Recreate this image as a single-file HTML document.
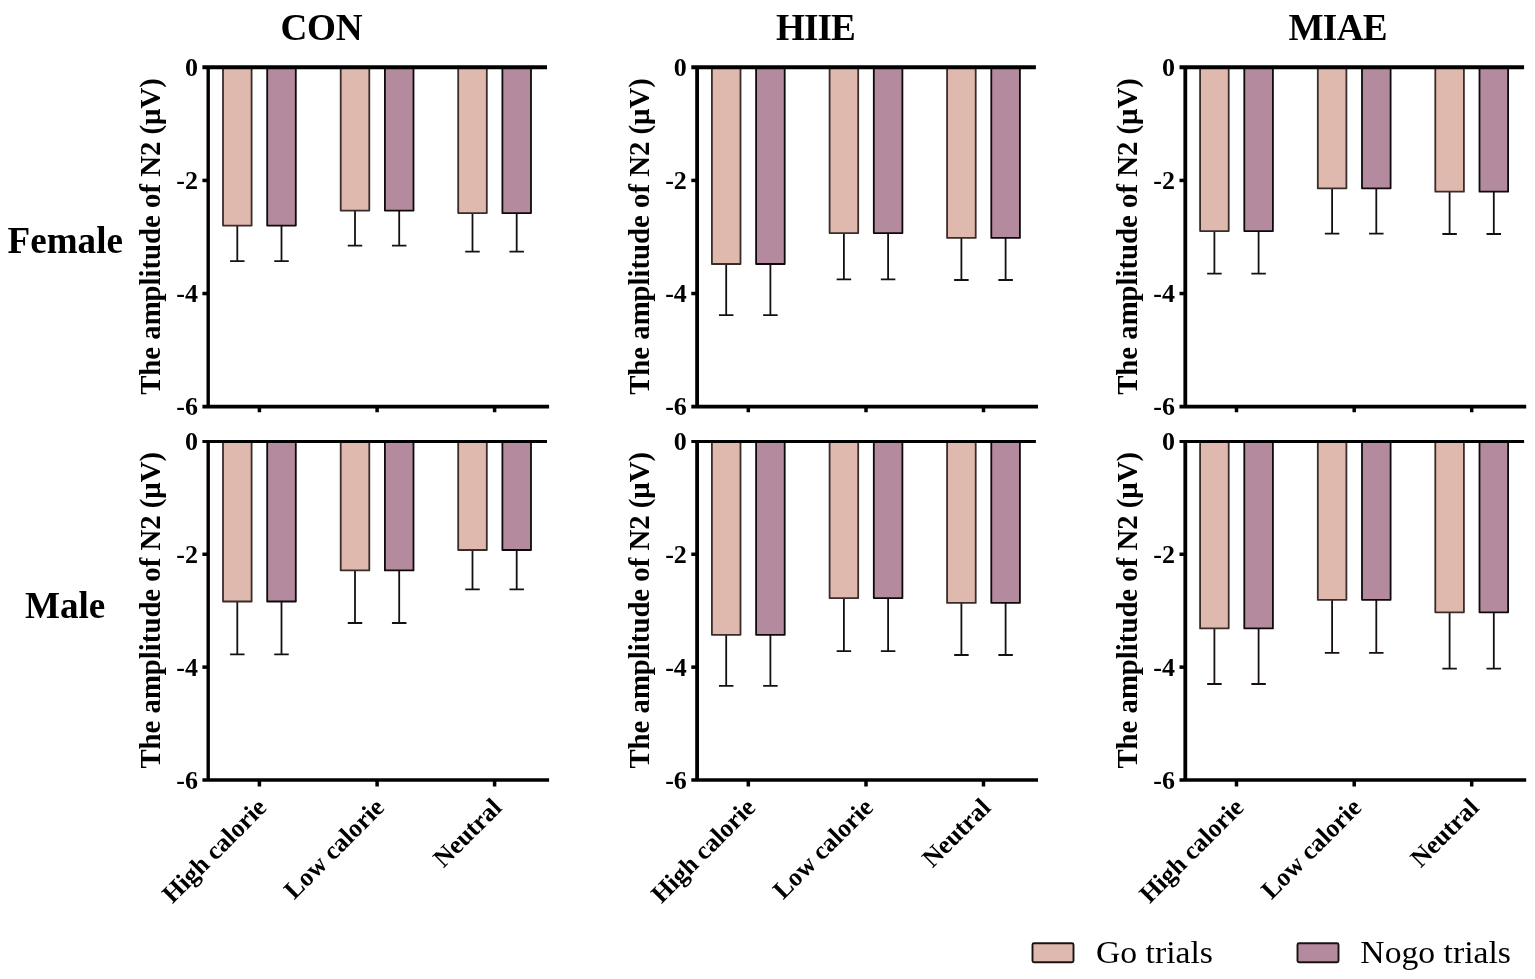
<!DOCTYPE html>
<html lang="en"><head><meta charset="utf-8"><title>N2 amplitude</title>
<style>html,body{margin:0;padding:0;background:#fff;overflow:hidden}svg{display:block;filter:blur(0.45px)}</style></head>
<body>
<svg width="1535" height="979" viewBox="0 0 1535 979">
<rect width="1535" height="979" fill="#fff"/>
<g font-family="'Liberation Serif', 'Times New Roman', serif" font-weight="bold" fill="#000">
<text x="280.4" y="39.8" font-size="37.2" letter-spacing="-0.2">CON</text>
<text x="776" y="39.8" font-size="37.2" letter-spacing="-0.95">HIIE</text>
<text x="1288.4" y="39.8" font-size="37.2" letter-spacing="-0.65">MIAE</text>
<text x="7.6" y="253" font-size="37.1">Female</text>
<text x="25" y="618" font-size="37.1">Male</text>
<path d="M237.30 225.60V261.10M230.05 261.10H244.55" stroke="#161012" stroke-width="1.8" fill="none"/>
<rect x="223.00" y="67.30" width="28.60" height="158.30" fill="#dfb9ad" stroke="#3a2c29" stroke-width="1.8" stroke-linejoin="round"/>
<path d="M281.50 225.60V261.10M274.25 261.10H288.75" stroke="#161012" stroke-width="1.8" fill="none"/>
<rect x="267.20" y="67.30" width="28.60" height="158.30" fill="#b48a9e" stroke="#0e0a0c" stroke-width="1.8" stroke-linejoin="round"/>
<path d="M355.00 210.60V245.70M347.75 245.70H362.25" stroke="#161012" stroke-width="1.8" fill="none"/>
<rect x="340.70" y="67.30" width="28.60" height="143.30" fill="#dfb9ad" stroke="#3a2c29" stroke-width="1.8" stroke-linejoin="round"/>
<path d="M399.20 210.60V245.70M391.95 245.70H406.45" stroke="#161012" stroke-width="1.8" fill="none"/>
<rect x="384.90" y="67.30" width="28.60" height="143.30" fill="#b48a9e" stroke="#0e0a0c" stroke-width="1.8" stroke-linejoin="round"/>
<path d="M472.50 213.10V251.70M465.25 251.70H479.75" stroke="#161012" stroke-width="1.8" fill="none"/>
<rect x="458.20" y="67.30" width="28.60" height="145.80" fill="#dfb9ad" stroke="#3a2c29" stroke-width="1.8" stroke-linejoin="round"/>
<path d="M516.70 213.10V251.70M509.45 251.70H523.95" stroke="#161012" stroke-width="1.8" fill="none"/>
<rect x="502.40" y="67.30" width="28.60" height="145.80" fill="#b48a9e" stroke="#0e0a0c" stroke-width="1.8" stroke-linejoin="round"/>
<path d="M208.20 67.30V406.65" stroke="#000" stroke-width="3.4" fill="none"/>
<path d="M202.40 67.30H547.00" stroke="#000" stroke-width="4.0" fill="none"/>
<path d="M202.40 406.65H549.10" stroke="#000" stroke-width="3.7" fill="none"/>
<text x="197.90" y="75.80" font-size="26" text-anchor="end">0</text>
<path d="M202.40 180.42H208.20" stroke="#000" stroke-width="3.5" fill="none"/>
<text x="197.90" y="188.92" font-size="26" text-anchor="end">-2</text>
<path d="M202.40 293.53H208.20" stroke="#000" stroke-width="3.5" fill="none"/>
<text x="197.90" y="302.03" font-size="26" text-anchor="end">-4</text>
<text x="197.90" y="415.15" font-size="26" text-anchor="end">-6</text>
<path d="M259.40 406.65v5.6" stroke="#000" stroke-width="3.5" fill="none"/>
<path d="M377.10 406.65v5.6" stroke="#000" stroke-width="3.5" fill="none"/>
<path d="M494.60 406.65v5.6" stroke="#000" stroke-width="3.5" fill="none"/>
<text transform="translate(159.90 236.57) rotate(-90)" font-size="28.75" text-anchor="middle">The amplitude of N2 (μV)</text>
<path d="M726.20 264.00V315.10M718.95 315.10H733.45" stroke="#161012" stroke-width="1.8" fill="none"/>
<rect x="711.90" y="67.30" width="28.60" height="196.70" fill="#dfb9ad" stroke="#3a2c29" stroke-width="1.8" stroke-linejoin="round"/>
<path d="M770.40 264.00V315.10M763.15 315.10H777.65" stroke="#161012" stroke-width="1.8" fill="none"/>
<rect x="756.10" y="67.30" width="28.60" height="196.70" fill="#b48a9e" stroke="#0e0a0c" stroke-width="1.8" stroke-linejoin="round"/>
<path d="M843.90 233.10V279.40M836.65 279.40H851.15" stroke="#161012" stroke-width="1.8" fill="none"/>
<rect x="829.60" y="67.30" width="28.60" height="165.80" fill="#dfb9ad" stroke="#3a2c29" stroke-width="1.8" stroke-linejoin="round"/>
<path d="M888.10 233.10V279.40M880.85 279.40H895.35" stroke="#161012" stroke-width="1.8" fill="none"/>
<rect x="873.80" y="67.30" width="28.60" height="165.80" fill="#b48a9e" stroke="#0e0a0c" stroke-width="1.8" stroke-linejoin="round"/>
<path d="M961.40 237.90V280.00M954.15 280.00H968.65" stroke="#161012" stroke-width="1.8" fill="none"/>
<rect x="947.10" y="67.30" width="28.60" height="170.60" fill="#dfb9ad" stroke="#3a2c29" stroke-width="1.8" stroke-linejoin="round"/>
<path d="M1005.60 237.90V280.00M998.35 280.00H1012.85" stroke="#161012" stroke-width="1.8" fill="none"/>
<rect x="991.30" y="67.30" width="28.60" height="170.60" fill="#b48a9e" stroke="#0e0a0c" stroke-width="1.8" stroke-linejoin="round"/>
<path d="M697.10 67.30V406.65" stroke="#000" stroke-width="3.8" fill="none"/>
<path d="M691.30 67.30H1035.90" stroke="#000" stroke-width="4.0" fill="none"/>
<path d="M691.30 406.65H1038.00" stroke="#000" stroke-width="3.7" fill="none"/>
<text x="686.80" y="75.80" font-size="26" text-anchor="end">0</text>
<path d="M691.30 180.42H697.10" stroke="#000" stroke-width="3.5" fill="none"/>
<text x="686.80" y="188.92" font-size="26" text-anchor="end">-2</text>
<path d="M691.30 293.53H697.10" stroke="#000" stroke-width="3.5" fill="none"/>
<text x="686.80" y="302.03" font-size="26" text-anchor="end">-4</text>
<text x="686.80" y="415.15" font-size="26" text-anchor="end">-6</text>
<path d="M748.30 406.65v5.6" stroke="#000" stroke-width="3.5" fill="none"/>
<path d="M866.00 406.65v5.6" stroke="#000" stroke-width="3.5" fill="none"/>
<path d="M983.50 406.65v5.6" stroke="#000" stroke-width="3.5" fill="none"/>
<text transform="translate(648.80 236.57) rotate(-90)" font-size="28.75" text-anchor="middle">The amplitude of N2 (μV)</text>
<path d="M1214.40 231.10V273.60M1207.15 273.60H1221.65" stroke="#161012" stroke-width="1.8" fill="none"/>
<rect x="1200.10" y="67.30" width="28.60" height="163.80" fill="#dfb9ad" stroke="#3a2c29" stroke-width="1.8" stroke-linejoin="round"/>
<path d="M1258.60 231.10V273.60M1251.35 273.60H1265.85" stroke="#161012" stroke-width="1.8" fill="none"/>
<rect x="1244.30" y="67.30" width="28.60" height="163.80" fill="#b48a9e" stroke="#0e0a0c" stroke-width="1.8" stroke-linejoin="round"/>
<path d="M1332.10 188.30V233.60M1324.85 233.60H1339.35" stroke="#161012" stroke-width="1.8" fill="none"/>
<rect x="1317.80" y="67.30" width="28.60" height="121.00" fill="#dfb9ad" stroke="#3a2c29" stroke-width="1.8" stroke-linejoin="round"/>
<path d="M1376.30 188.30V233.60M1369.05 233.60H1383.55" stroke="#161012" stroke-width="1.8" fill="none"/>
<rect x="1362.00" y="67.30" width="28.60" height="121.00" fill="#b48a9e" stroke="#0e0a0c" stroke-width="1.8" stroke-linejoin="round"/>
<path d="M1449.60 191.70V234.00M1442.35 234.00H1456.85" stroke="#161012" stroke-width="1.8" fill="none"/>
<rect x="1435.30" y="67.30" width="28.60" height="124.40" fill="#dfb9ad" stroke="#3a2c29" stroke-width="1.8" stroke-linejoin="round"/>
<path d="M1493.80 191.70V234.00M1486.55 234.00H1501.05" stroke="#161012" stroke-width="1.8" fill="none"/>
<rect x="1479.50" y="67.30" width="28.60" height="124.40" fill="#b48a9e" stroke="#0e0a0c" stroke-width="1.8" stroke-linejoin="round"/>
<path d="M1185.30 67.30V406.65" stroke="#000" stroke-width="3.8" fill="none"/>
<path d="M1179.50 67.30H1524.10" stroke="#000" stroke-width="4.0" fill="none"/>
<path d="M1179.50 406.65H1526.20" stroke="#000" stroke-width="3.7" fill="none"/>
<text x="1175.00" y="75.80" font-size="26" text-anchor="end">0</text>
<path d="M1179.50 180.42H1185.30" stroke="#000" stroke-width="3.5" fill="none"/>
<text x="1175.00" y="188.92" font-size="26" text-anchor="end">-2</text>
<path d="M1179.50 293.53H1185.30" stroke="#000" stroke-width="3.5" fill="none"/>
<text x="1175.00" y="302.03" font-size="26" text-anchor="end">-4</text>
<text x="1175.00" y="415.15" font-size="26" text-anchor="end">-6</text>
<path d="M1236.50 406.65v5.6" stroke="#000" stroke-width="3.5" fill="none"/>
<path d="M1354.20 406.65v5.6" stroke="#000" stroke-width="3.5" fill="none"/>
<path d="M1471.70 406.65v5.6" stroke="#000" stroke-width="3.5" fill="none"/>
<text transform="translate(1137.00 236.57) rotate(-90)" font-size="28.75" text-anchor="middle">The amplitude of N2 (μV)</text>
<path d="M237.30 601.50V654.40M230.05 654.40H244.55" stroke="#161012" stroke-width="1.8" fill="none"/>
<rect x="223.00" y="441.40" width="28.60" height="160.10" fill="#dfb9ad" stroke="#3a2c29" stroke-width="1.8" stroke-linejoin="round"/>
<path d="M281.50 601.50V654.40M274.25 654.40H288.75" stroke="#161012" stroke-width="1.8" fill="none"/>
<rect x="267.20" y="441.40" width="28.60" height="160.10" fill="#b48a9e" stroke="#0e0a0c" stroke-width="1.8" stroke-linejoin="round"/>
<path d="M355.00 570.40V623.00M347.75 623.00H362.25" stroke="#161012" stroke-width="1.8" fill="none"/>
<rect x="340.70" y="441.40" width="28.60" height="129.00" fill="#dfb9ad" stroke="#3a2c29" stroke-width="1.8" stroke-linejoin="round"/>
<path d="M399.20 570.40V623.00M391.95 623.00H406.45" stroke="#161012" stroke-width="1.8" fill="none"/>
<rect x="384.90" y="441.40" width="28.60" height="129.00" fill="#b48a9e" stroke="#0e0a0c" stroke-width="1.8" stroke-linejoin="round"/>
<path d="M472.50 550.00V589.40M465.25 589.40H479.75" stroke="#161012" stroke-width="1.8" fill="none"/>
<rect x="458.20" y="441.40" width="28.60" height="108.60" fill="#dfb9ad" stroke="#3a2c29" stroke-width="1.8" stroke-linejoin="round"/>
<path d="M516.70 550.00V589.40M509.45 589.40H523.95" stroke="#161012" stroke-width="1.8" fill="none"/>
<rect x="502.40" y="441.40" width="28.60" height="108.60" fill="#b48a9e" stroke="#0e0a0c" stroke-width="1.8" stroke-linejoin="round"/>
<path d="M208.20 441.40V780.00" stroke="#000" stroke-width="3.4" fill="none"/>
<path d="M202.40 441.40H547.00" stroke="#000" stroke-width="3.0" fill="none"/>
<path d="M202.40 780.00H549.10" stroke="#000" stroke-width="3.4" fill="none"/>
<text x="197.90" y="449.90" font-size="26" text-anchor="end">0</text>
<path d="M202.40 554.27H208.20" stroke="#000" stroke-width="3.5" fill="none"/>
<text x="197.90" y="562.77" font-size="26" text-anchor="end">-2</text>
<path d="M202.40 667.13H208.20" stroke="#000" stroke-width="3.5" fill="none"/>
<text x="197.90" y="675.63" font-size="26" text-anchor="end">-4</text>
<text x="197.90" y="788.50" font-size="26" text-anchor="end">-6</text>
<path d="M259.40 780.00v6.5" stroke="#000" stroke-width="3.5" fill="none"/>
<path d="M377.10 780.00v6.5" stroke="#000" stroke-width="3.5" fill="none"/>
<path d="M494.60 780.00v6.5" stroke="#000" stroke-width="3.5" fill="none"/>
<text transform="translate(159.90 610.30) rotate(-90)" font-size="28.75" text-anchor="middle">The amplitude of N2 (μV)</text>
<text transform="translate(267.90 809.00) rotate(-45)" font-size="25.7" text-anchor="end">High calorie</text>
<text transform="translate(385.60 809.00) rotate(-45)" font-size="25.7" text-anchor="end">Low calorie</text>
<text transform="translate(503.10 809.00) rotate(-45)" font-size="25.7" text-anchor="end">Neutral</text>
<path d="M726.20 634.80V685.90M718.95 685.90H733.45" stroke="#161012" stroke-width="1.8" fill="none"/>
<rect x="711.90" y="441.40" width="28.60" height="193.40" fill="#dfb9ad" stroke="#3a2c29" stroke-width="1.8" stroke-linejoin="round"/>
<path d="M770.40 634.80V685.90M763.15 685.90H777.65" stroke="#161012" stroke-width="1.8" fill="none"/>
<rect x="756.10" y="441.40" width="28.60" height="193.40" fill="#b48a9e" stroke="#0e0a0c" stroke-width="1.8" stroke-linejoin="round"/>
<path d="M843.90 598.10V651.10M836.65 651.10H851.15" stroke="#161012" stroke-width="1.8" fill="none"/>
<rect x="829.60" y="441.40" width="28.60" height="156.70" fill="#dfb9ad" stroke="#3a2c29" stroke-width="1.8" stroke-linejoin="round"/>
<path d="M888.10 598.10V651.10M880.85 651.10H895.35" stroke="#161012" stroke-width="1.8" fill="none"/>
<rect x="873.80" y="441.40" width="28.60" height="156.70" fill="#b48a9e" stroke="#0e0a0c" stroke-width="1.8" stroke-linejoin="round"/>
<path d="M961.40 602.90V655.00M954.15 655.00H968.65" stroke="#161012" stroke-width="1.8" fill="none"/>
<rect x="947.10" y="441.40" width="28.60" height="161.50" fill="#dfb9ad" stroke="#3a2c29" stroke-width="1.8" stroke-linejoin="round"/>
<path d="M1005.60 602.90V655.00M998.35 655.00H1012.85" stroke="#161012" stroke-width="1.8" fill="none"/>
<rect x="991.30" y="441.40" width="28.60" height="161.50" fill="#b48a9e" stroke="#0e0a0c" stroke-width="1.8" stroke-linejoin="round"/>
<path d="M697.10 441.40V780.00" stroke="#000" stroke-width="3.8" fill="none"/>
<path d="M691.30 441.40H1035.90" stroke="#000" stroke-width="3.0" fill="none"/>
<path d="M691.30 780.00H1038.00" stroke="#000" stroke-width="3.4" fill="none"/>
<text x="686.80" y="449.90" font-size="26" text-anchor="end">0</text>
<path d="M691.30 554.27H697.10" stroke="#000" stroke-width="3.5" fill="none"/>
<text x="686.80" y="562.77" font-size="26" text-anchor="end">-2</text>
<path d="M691.30 667.13H697.10" stroke="#000" stroke-width="3.5" fill="none"/>
<text x="686.80" y="675.63" font-size="26" text-anchor="end">-4</text>
<text x="686.80" y="788.50" font-size="26" text-anchor="end">-6</text>
<path d="M748.30 780.00v6.5" stroke="#000" stroke-width="3.5" fill="none"/>
<path d="M866.00 780.00v6.5" stroke="#000" stroke-width="3.5" fill="none"/>
<path d="M983.50 780.00v6.5" stroke="#000" stroke-width="3.5" fill="none"/>
<text transform="translate(648.80 610.30) rotate(-90)" font-size="28.75" text-anchor="middle">The amplitude of N2 (μV)</text>
<text transform="translate(756.80 809.00) rotate(-45)" font-size="25.7" text-anchor="end">High calorie</text>
<text transform="translate(874.50 809.00) rotate(-45)" font-size="25.7" text-anchor="end">Low calorie</text>
<text transform="translate(992.00 809.00) rotate(-45)" font-size="25.7" text-anchor="end">Neutral</text>
<path d="M1214.40 628.40V684.00M1207.15 684.00H1221.65" stroke="#161012" stroke-width="1.8" fill="none"/>
<rect x="1200.10" y="441.40" width="28.60" height="187.00" fill="#dfb9ad" stroke="#3a2c29" stroke-width="1.8" stroke-linejoin="round"/>
<path d="M1258.60 628.40V684.00M1251.35 684.00H1265.85" stroke="#161012" stroke-width="1.8" fill="none"/>
<rect x="1244.30" y="441.40" width="28.60" height="187.00" fill="#b48a9e" stroke="#0e0a0c" stroke-width="1.8" stroke-linejoin="round"/>
<path d="M1332.10 599.80V652.80M1324.85 652.80H1339.35" stroke="#161012" stroke-width="1.8" fill="none"/>
<rect x="1317.80" y="441.40" width="28.60" height="158.40" fill="#dfb9ad" stroke="#3a2c29" stroke-width="1.8" stroke-linejoin="round"/>
<path d="M1376.30 599.80V652.80M1369.05 652.80H1383.55" stroke="#161012" stroke-width="1.8" fill="none"/>
<rect x="1362.00" y="441.40" width="28.60" height="158.40" fill="#b48a9e" stroke="#0e0a0c" stroke-width="1.8" stroke-linejoin="round"/>
<path d="M1449.60 612.30V668.60M1442.35 668.60H1456.85" stroke="#161012" stroke-width="1.8" fill="none"/>
<rect x="1435.30" y="441.40" width="28.60" height="170.90" fill="#dfb9ad" stroke="#3a2c29" stroke-width="1.8" stroke-linejoin="round"/>
<path d="M1493.80 612.30V668.60M1486.55 668.60H1501.05" stroke="#161012" stroke-width="1.8" fill="none"/>
<rect x="1479.50" y="441.40" width="28.60" height="170.90" fill="#b48a9e" stroke="#0e0a0c" stroke-width="1.8" stroke-linejoin="round"/>
<path d="M1185.30 441.40V780.00" stroke="#000" stroke-width="3.8" fill="none"/>
<path d="M1179.50 441.40H1524.10" stroke="#000" stroke-width="3.0" fill="none"/>
<path d="M1179.50 780.00H1526.20" stroke="#000" stroke-width="3.4" fill="none"/>
<text x="1175.00" y="449.90" font-size="26" text-anchor="end">0</text>
<path d="M1179.50 554.27H1185.30" stroke="#000" stroke-width="3.5" fill="none"/>
<text x="1175.00" y="562.77" font-size="26" text-anchor="end">-2</text>
<path d="M1179.50 667.13H1185.30" stroke="#000" stroke-width="3.5" fill="none"/>
<text x="1175.00" y="675.63" font-size="26" text-anchor="end">-4</text>
<text x="1175.00" y="788.50" font-size="26" text-anchor="end">-6</text>
<path d="M1236.50 780.00v6.5" stroke="#000" stroke-width="3.5" fill="none"/>
<path d="M1354.20 780.00v6.5" stroke="#000" stroke-width="3.5" fill="none"/>
<path d="M1471.70 780.00v6.5" stroke="#000" stroke-width="3.5" fill="none"/>
<text transform="translate(1137.00 610.30) rotate(-90)" font-size="28.75" text-anchor="middle">The amplitude of N2 (μV)</text>
<text transform="translate(1245.00 809.00) rotate(-45)" font-size="25.7" text-anchor="end">High calorie</text>
<text transform="translate(1362.70 809.00) rotate(-45)" font-size="25.7" text-anchor="end">Low calorie</text>
<text transform="translate(1480.20 809.00) rotate(-45)" font-size="25.7" text-anchor="end">Neutral</text>
</g>
<g font-family="'Liberation Serif', 'Times New Roman', serif" fill="#000" font-size="31.3">
<rect x="1032.5" y="943.3" width="41" height="19" fill="#dfb9ad" stroke="#1a1212" stroke-width="1.9" rx="1.5"/>
<text transform="translate(1096.0 962.6) scale(1.077 1)">Go trials</text>
<rect x="1297.5" y="943.3" width="41" height="19" fill="#b48a9e" stroke="#1a1212" stroke-width="1.9" rx="1.5"/>
<text transform="translate(1360.3 962.6) scale(1.077 1)">Nogo trials</text>
</g>
</svg>
</body></html>
